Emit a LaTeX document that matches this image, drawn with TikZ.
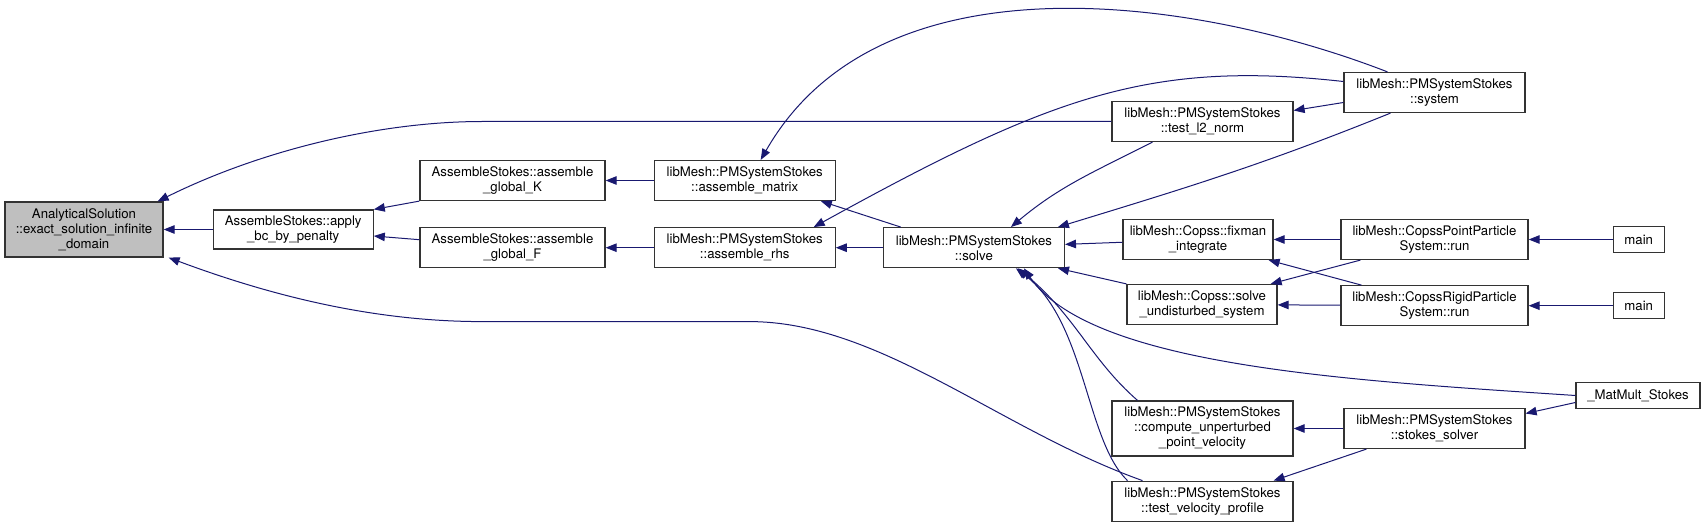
\documentclass[tikz,border=0pt]{standalone}
\usepackage{fontspec}
\setmainfont{TeX Gyre Heros}
\usepackage{xcolor}
\usetikzlibrary{arrows.meta,positioning}
\definecolor{callblue}{HTML}{191970}

\begin{document}
\begin{tikzpicture}[
   x=1pt,y=1pt,
   >={Triangle[length=11pt,width=8.5pt]},
   box/.style={draw=black!80,line width=1.2pt,fill=white,align=center,inner sep=2pt,
               minimum width=181pt,minimum height=40pt,
               font=\fontsize{13.2}{15}\selectfont},
   cur/.style={box,fill=black!25},
   leaf/.style={box,minimum height=26pt},
   call/.style={->,callblue,line width=1pt}
  ]
  \useasboundingbox (0,0) rectangle (1705,-526);

  \node[cur,minimum width=158pt,minimum height=55pt] (ana) at (84,-229.5)
    {AnalyticalSolution\\::exact\_solution\_infinite\\\_domain};
  \node[box,minimum width=160pt,minimum height=39pt,right=49pt of ana] (apply)
    {AssembleStokes::apply\\\_bc\_by\_penalty};
  \node[box,minimum width=185pt] (globK) at (512.5,-180.5) {AssembleStokes::assemble\\\_global\_K};
  \node[box,minimum width=185pt,below=26pt of globK] (globF) {AssembleStokes::assemble\\\_global\_F};
  \node[box,right=48pt of globK] (matrix) {libMesh::PMSystemStokes\\::assemble\_matrix};
  \node[box,right=48pt of globF] (rhs)    {libMesh::PMSystemStokes\\::assemble\_rhs};
  \node[box,right=47pt of rhs]   (solve)  {libMesh::PMSystemStokes\\::solve};

  \node[box] (l2) at (1202.5,-121.5) {libMesh::PMSystemStokes\\::test\_l2\_norm};
  \node[box,minimum width=150pt] (fixman) at (1198,-239.5) {libMesh::Copss::fixman\\\_integrate};
  \node[box,minimum width=150pt] (undist) at (1202,-304.5) {libMesh::Copss::solve\\\_undisturbed\_system};
  \node[box,minimum height=55pt] (compute) at (1202.5,-428.5)
    {libMesh::PMSystemStokes\\::compute\_unperturbed\\\_point\_velocity};
  \node[box,below=24pt of compute] (tvel) {libMesh::PMSystemStokes\\::test\_velocity\_profile};

  \node[box] (system) at (1434.5,-92.5) {libMesh::PMSystemStokes\\::system};
  \node[box,minimum width=187pt] (cpoint) at (1434.5,-239.5) {libMesh::CopssPointParticle\\System::run};
  \node[box,minimum width=187pt,below=25pt of cpoint] (crigid) {libMesh::CopssRigidParticle\\System::run};
  \node[box] (stokes) at (1434.5,-428.5) {libMesh::PMSystemStokes\\::stokes\_solver};

  \node[leaf,minimum width=51pt,right=84pt of cpoint] (mainA) {main};
  \node[leaf,minimum width=51pt,right=84pt of crigid] (mainB) {main};
  \node[leaf,minimum width=124pt] (matmult) at (1638,-395.5) {\_MatMult\_Stokes};

  \draw[call] (apply) -- (ana);
  \draw[call] (globK.south west) -- (apply.north east);
  \draw[call] ([yshift=8pt]globF.west) -- ([yshift=-6.5pt]apply.east);
  \draw[call] (matrix) -- (globK);
  \draw[call] (rhs) -- (globF);
  \draw[call] (solve) -- (rhs);
  \draw[call] ([xshift=18pt]solve.north west) -- ([xshift=-15pt]matrix.south east);
  \draw[call] ([xshift=-47pt]system.north) .. controls +(-188,73) and +(120,210) .. ([xshift=16pt]matrix.north);
  \draw[call] ([yshift=11pt]system.west) .. controls +(-194,21.5) and +(237.5,131) .. ([xshift=69pt]rhs.north);
  \draw[call] (l2.west) -- ++(-629,0) .. controls +(-103,0) and +(103,51) .. ([xshift=-6pt]ana.north east);
  \draw[call] ([xshift=-60pt]tvel.north) .. controls +(-143,51) and +(130,0) .. ++(-393,159)
    -- ++(-267,0) .. controls +(-103,0) and +(110,-41) .. ([xshift=5pt]ana.south east);
  \draw[call] ([xshift=-50pt]l2.south) to[out=207,in=40] ([xshift=37pt]solve.north);
  \draw[call] ([xshift=-44pt]system.south) to[out=202,in=17] ([xshift=84pt]solve.north);
  \draw[call] (fixman) -- (solve);
  \draw[call] (undist.north west) -- ([xshift=-7pt]solve.south east);
  \draw[call] ([xshift=-65pt]compute.north) .. controls +(-47,41) and +(58,-48) .. ([xshift=44pt]solve.south);
  \draw[call] ([xshift=-75pt]tvel.north) .. controls +(-42,40) and +(70,-53) .. ([xshift=42pt]solve.south);
  \draw[call] (matmult.west) .. controls +(-226,15) and +(67,-98) .. ([xshift=50pt]solve.south);
  \draw[call] ([yshift=-10pt]system.west) -- ([yshift=11pt]l2.east);
  \draw[call] (cpoint) -- (fixman);
  \draw[call] (crigid) -- (undist);
  \draw[call] ([xshift=20pt]cpoint.south west) -- ([xshift=-7pt]undist.north east);
  \draw[call] ([xshift=21pt]crigid.north west) -- ([xshift=-5pt]fixman.south east);
  \draw[call] (mainA) -- (cpoint);
  \draw[call] (mainB) -- (crigid);
  \draw[call] (stokes) -- (compute);
  \draw[call] ([yshift=-7pt]matmult.west) -- ([yshift=15pt]stokes.east);
  \draw[call] ([xshift=23pt]stokes.south west) -- ([xshift=-20pt]tvel.north east);
\end{tikzpicture}
\end{document}
